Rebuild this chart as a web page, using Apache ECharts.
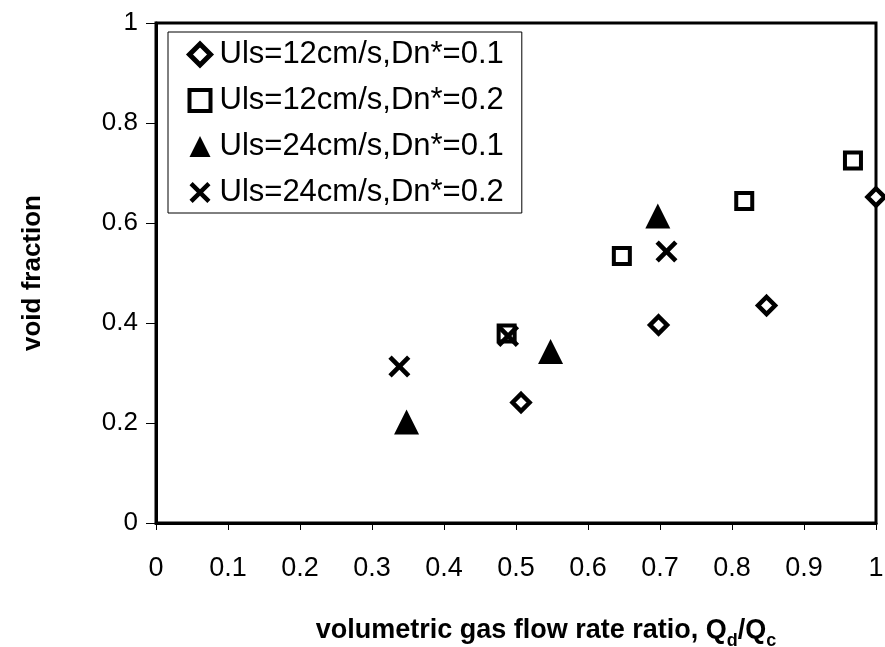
<!DOCTYPE html>
<html>
<head>
<meta charset="utf-8">
<script src="https://cdn.jsdelivr.net/npm/echarts@6/dist/echarts.min.js"></script>
<style>
html,body{margin:0;padding:0;background:#fff;}
#chart{width:885px;height:647px;}
</style>
</head>
<body>
<div id="chart"></div>
<script>
var seriesNames = ['Uls=12cm/s,Dn*=0.1', 'Uls=12cm/s,Dn*=0.2', 'Uls=24cm/s,Dn*=0.1', 'Uls=24cm/s,Dn*=0.2'];
var xTicks = [0, 0.1, 0.2, 0.3, 0.4, 0.5, 0.6, 0.7, 0.8, 0.9, 1];
var yTicks = [0, 0.2, 0.4, 0.6, 0.8, 1];
var diamondX = [0.507, 0.698, 0.848, 1.0];
var diamondY = [0.241, 0.396, 0.435, 0.652];
var squareX = [0.487, 0.647, 0.817, 0.968];
var squareY = [0.379, 0.534, 0.644, 0.725];
var triangleX = [0.348, 0.548, 0.697];
var triangleY = [0.202, 0.343, 0.614];
var crossX = [0.338, 0.489, 0.709];
var crossY = [0.313, 0.374, 0.543];

function pairs(xs, ys) { return xs.map(function (x, i) { return [x, ys[i]]; }); }
function fmt(v) { return String(+v.toFixed(1)); }

var crossPath = 'path://M0,3L3,0L10,7L17,0L20,3L13,10L20,17L17,20L10,13L3,20L0,17L7,10Z';
var FONT = 'Liberation Sans, Arial, Helvetica, sans-serif';

var chart = echarts.init(document.getElementById('chart'), null, {renderer: 'canvas'});
chart.setOption({
  backgroundColor: '#fff',
  animation: false,
  textStyle: {fontFamily: FONT, color: '#000'},
  grid: {left: 156, right: 9, top: 23, bottom: 124, containLabel: false, outerBoundsMode: 'none',
         show: true, borderColor: '#000', borderWidth: 3, backgroundColor: 'transparent'},
  legend: {
    orient: 'vertical', left: 168, top: 32,
    padding: [7, 18, 5, 19],
    itemGap: 15, itemWidth: 21, itemHeight: 21,
    backgroundColor: '#fff', borderColor: '#000', borderWidth: 1,
    textStyle: {fontSize: 31, fontFamily: FONT, color: '#000', padding: [0, 0, 0, 4]},
    data: [
      {name: seriesNames[0], itemStyle: {borderWidth: 5, borderColor: '#000', color: '#fff'}},
      {name: seriesNames[1], itemStyle: {borderWidth: 4, borderColor: '#000', color: '#fff'}},
      {name: seriesNames[2]},
      {name: seriesNames[3]}
    ]
  },
  xAxis: {
    type: 'value', min: 0, max: 1, interval: 0.1,
    name: 'volumetric gas flow rate ratio, {n|Q}{s|d}{n|/Q}{s|c}',
    nameLocation: 'middle', nameGap: 94,
    nameTextStyle: {fontSize: 27, fontWeight: 'bold', color: '#000', fontFamily: FONT, padding: [0, 0, 0, 60],
      rich: {n: {fontSize: 27, fontWeight: 'bold', fontFamily: FONT},
             s: {fontSize: 18, fontWeight: 'bold', fontFamily: FONT, verticalAlign: 'bottom', padding: [0, 0, -6, 0]}}},
    axisLine: {lineStyle: {color: '#000', width: 3}},
    axisTick: {show: true, length: 7, lineStyle: {color: '#000', width: 1}},
    axisLabel: {fontSize: 27, color: '#000', margin: 32, fontFamily: FONT, formatter: fmt},
    splitLine: {show: false}
  },
  yAxis: {
    type: 'value', min: 0, max: 1, interval: 0.2,
    name: 'void fraction', nameLocation: 'middle', nameGap: 110,
    nameTextStyle: {fontSize: 26, fontWeight: 'bold', color: '#000', fontFamily: FONT},
    axisLine: {lineStyle: {color: '#000', width: 3}},
    axisTick: {show: true, length: 10, lineStyle: {color: '#000', width: 1}},
    axisLabel: {fontSize: 26, color: '#000', margin: 18, fontFamily: FONT, formatter: fmt},
    splitLine: {show: false}
  },
  series: [
    {name: seriesNames[0], type: 'scatter', symbol: 'diamond', symbolSize: 17,
     itemStyle: {color: '#fff', borderColor: '#000', borderWidth: 4.5, opacity: 1}, data: pairs(diamondX, diamondY)},
    {name: seriesNames[1], type: 'scatter', symbol: 'rect', symbolSize: 16,
     itemStyle: {color: '#fff', borderColor: '#000', borderWidth: 4, opacity: 1}, data: pairs(squareX, squareY)},
    {name: seriesNames[2], type: 'scatter', symbol: 'triangle', symbolSize: 25,
     itemStyle: {color: '#000', opacity: 1}, data: pairs(triangleX, triangleY)},
    {name: seriesNames[3], type: 'scatter', symbol: crossPath, symbolSize: 22,
     itemStyle: {color: '#000', opacity: 1}, data: pairs(crossX, crossY)}
  ]
});
</script>
</body>
</html>
